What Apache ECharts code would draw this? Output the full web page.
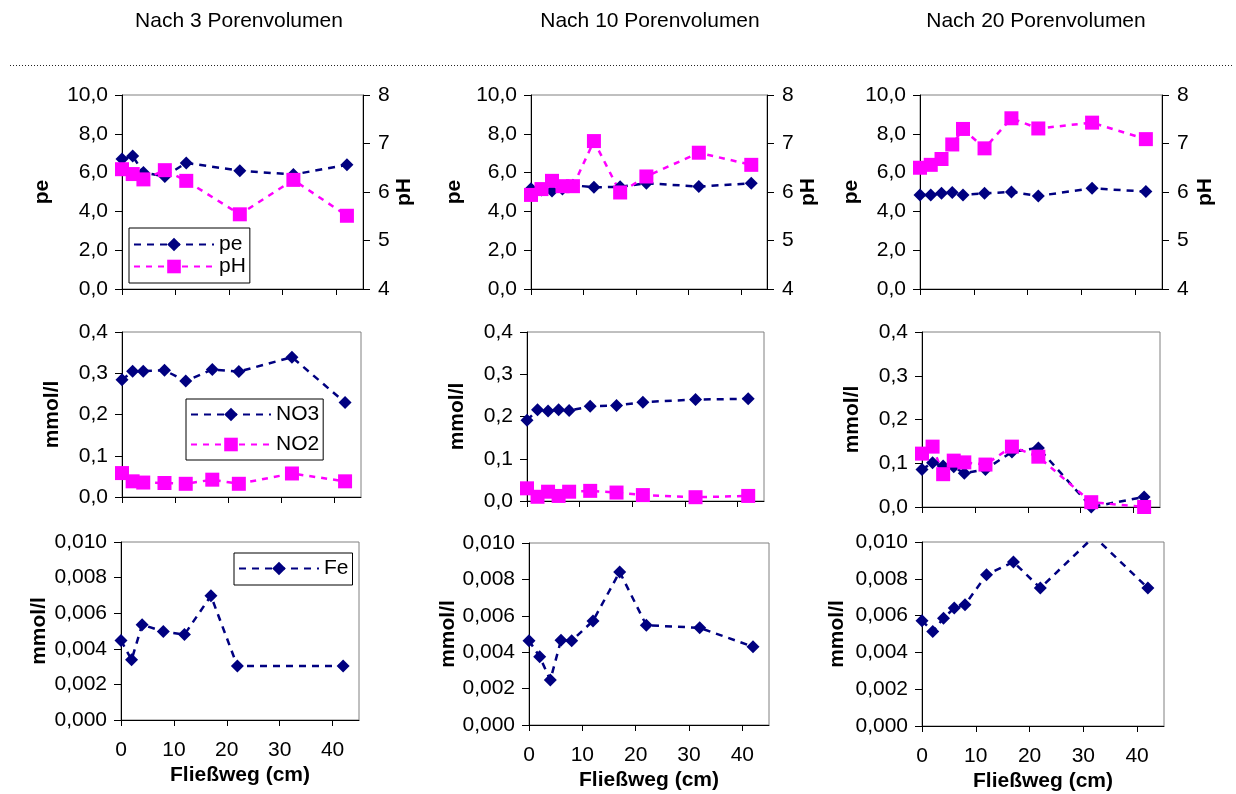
<!DOCTYPE html>
<html>
<head>
<meta charset="utf-8">
<script src="https://cdn.jsdelivr.net/npm/echarts@6/dist/echarts.min.js"></script>
<style>html,body{margin:0;padding:0;background:#fff}#c{width:1236px;height:794px}</style>
</head>
<body>
<div id="c"></div>
<script>
// ---- data ----
const titles = ['Nach 3 Porenvolumen', 'Nach 10 Porenvolumen', 'Nach 20 Porenvolumen'];
const xTicks = [0, 10, 20, 30, 40];

// 3 PV
const x3pe = [0, 2, 4, 8, 12, 22, 32, 42];
const pe3 = [6.7, 6.85, 6.0, 5.8, 6.5, 6.1, 5.9, 6.4];
const pH3 = [6.47, 6.37, 6.26, 6.45, 6.23, 5.54, 6.25, 5.51];
const x3no = [0, 2, 4, 8, 12, 17, 22, 32, 42];
const no3_3 = [0.284, 0.305, 0.305, 0.307, 0.281, 0.309, 0.304, 0.339, 0.229];
const no2_3 = [0.058, 0.038, 0.035, 0.034, 0.032, 0.042, 0.032, 0.057, 0.038];
const x3fe = [0, 2, 4, 8, 12, 17, 22, 42];
const fe3 = [0.00447, 0.00338, 0.00535, 0.00497, 0.0048, 0.00698, 0.00303, 0.00303];

// 10 PV
const x10 = [0, 2, 4, 6, 8, 12, 17, 22, 32, 42];
const pe10 = [5.17, 5.1, 5.05, 5.15, 5.35, 5.24, 5.27, 5.45, 5.28, 5.45];
const pH10 = [5.94, 6.06, 6.23, 6.12, 6.12, 7.05, 5.99, 6.32, 6.81, 6.56];
const no3_10 = [0.191, 0.216, 0.213, 0.216, 0.214, 0.224, 0.226, 0.234, 0.240, 0.242];
const no2_10 = [0.030, 0.010, 0.022, 0.012, 0.022, 0.024, 0.020, 0.014, 0.009, 0.012];
const fe10 = [0.00463, 0.00375, 0.00247, 0.00466, 0.00463, 0.00572, 0.00841, 0.00548, 0.00534, 0.0043];

// 20 PV
const x20 = [0, 2, 4, 6, 8, 12, 17, 22, 32, 42];
const pe20 = [4.85, 4.85, 4.93, 4.98, 4.85, 4.93, 5.0, 4.8, 5.19, 5.02];
const pH20 = [6.50, 6.56, 6.68, 6.98, 7.30, 6.90, 7.52, 7.31, 7.43, 7.09];
const no3_20 = [0.086, 0.101, 0.094, 0.092, 0.077, 0.086, 0.126, 0.135, 0.0, 0.023];
const no2_20 = [0.122, 0.138, 0.075, 0.106, 0.102, 0.097, 0.138, 0.115, 0.011, 0.0];
const fe20 = [0.00572, 0.00514, 0.00586, 0.00641, 0.00659, 0.00822, 0.00891, 0.0075, 0.0103, 0.0075];

// ---- layout ----
const FONT = '"Liberation Sans", Arial, sans-serif';
const NAVY = '#000080', PINK = '#FF00FF';
const grids = [
  {left: 122, top: 95, width: 241, height: 194},
  {left: 531, top: 95, width: 236, height: 194},
  {left: 920, top: 95, width: 242, height: 194},
  {left: 122, top: 332, width: 239, height: 165},
  {left: 527, top: 332, width: 237, height: 169},
  {left: 922, top: 332, width: 238, height: 175},
  {left: 121, top: 542, width: 238, height: 178},
  {left: 529, top: 543, width: 240, height: 182},
  {left: 922, top: 542, width: 242, height: 184}
].map(g => Object.assign({show: true, borderColor: '#808080', borderWidth: 1, backgroundColor: 'transparent'}, g));

const comma = d => v => v.toFixed(d).replace('.', ',');
const lab = {fontFamily: FONT, fontSize: 21, color: '#000'};
const nameStyle = {fontFamily: FONT, fontSize: 21, fontWeight: 'bold', color: '#000'};

const xAxes = grids.map((g, i) => ({
  type: 'value', gridIndex: i, min: 0, max: 45, interval: 10,
  axisLine: {lineStyle: {color: '#000', width: 1}},
  axisTick: {show: true, inside: false, length: 6, lineStyle: {color: '#000'}, customValues: xTicks},
  axisLabel: Object.assign({show: i >= 6, margin: 20, customValues: xTicks}, lab),
  splitLine: {show: false},
  name: i >= 6 ? 'Fließweg (cm)' : '', nameLocation: 'middle', nameGap: 45, nameTextStyle: nameStyle
}));

function yLeft(i, min, max, interval, dec, name, gap) {
  return {
    type: 'value', gridIndex: i, position: 'left', min, max, interval,
    axisLine: {show: true, lineStyle: {color: '#000', width: 1}},
    axisTick: {show: true, inside: false, length: 7, lineStyle: {color: '#000'}},
    axisLabel: Object.assign({margin: 14, formatter: comma(dec)}, lab),
    splitLine: {show: false},
    name, nameLocation: 'middle', nameRotate: 90, nameGap: gap, nameTextStyle: nameStyle
  };
}
function yRight(i, gap) {
  return {
    type: 'value', gridIndex: i, position: 'right', min: 4, max: 8, interval: 1,
    axisLine: {show: true, lineStyle: {color: '#000', width: 1}},
    axisTick: {show: true, inside: false, length: 7, lineStyle: {color: '#000'}},
    axisLabel: Object.assign({margin: 15, formatter: v => String(v)}, lab),
    splitLine: {show: false},
    name: 'pH', nameLocation: 'middle', nameRotate: 90, nameGap: gap, nameTextStyle: nameStyle
  };
}
const yAxes = [
  yLeft(0, 0, 10, 2, 1, 'pe', 69),
  yLeft(1, 0, 10, 2, 1, 'pe', 66),
  yLeft(2, 0, 10, 2, 1, 'pe', 58),
  yLeft(3, 0, 0.4, 0.1, 1, 'mmol/l', 59),
  yLeft(4, 0, 0.4, 0.1, 1, 'mmol/l', 59),
  yLeft(5, 0, 0.4, 0.1, 1, 'mmol/l', 59),
  yLeft(6, 0, 0.01, 0.002, 3, 'mmol/l', 71),
  yLeft(7, 0, 0.01, 0.002, 3, 'mmol/l', 67),
  yLeft(8, 0, 0.01, 0.002, 3, 'mmol/l', 74),
  yRight(0, 31), yRight(1, 31), yRight(2, 33)
];

const zip = (xs, ys) => xs.map((x, k) => [x, ys[k]]);
function ser(name, grid, yIdx, xs, ys, kind) {
  const navy = kind === 'navy';
  return {
    type: 'line', name, xAxisIndex: grid, yAxisIndex: yIdx, data: zip(xs, ys),
    symbol: navy ? 'diamond' : 'rect', symbolSize: navy ? 13 : 14,
    itemStyle: {color: navy ? NAVY : PINK, borderWidth: 0},
    lineStyle: {color: navy ? NAVY : PINK, width: 2.5, type: navy ? [7, 6] : [6, 6]},
    clip: true, animation: false, silent: true
  };
}
const series = [
  ser('pe', 0, 0, x3pe, pe3, 'navy'), ser('pH', 0, 9, x3pe, pH3, 'pink'),
  ser('pe', 1, 1, x10, pe10, 'navy'), ser('pH', 1, 10, x10, pH10, 'pink'),
  ser('pe', 2, 2, x20, pe20, 'navy'), ser('pH', 2, 11, x20, pH20, 'pink'),
  ser('NO3', 3, 3, x3no, no3_3, 'navy'), ser('NO2', 3, 3, x3no, no2_3, 'pink'),
  ser('NO3', 4, 4, x10, no3_10, 'navy'), ser('NO2', 4, 4, x10, no2_10, 'pink'),
  ser('NO3', 5, 5, x20, no3_20, 'navy'), ser('NO2', 5, 5, x20, no2_20, 'pink'),
  ser('Fe', 6, 6, x3fe, fe3, 'navy'),
  ser('Fe', 7, 7, x10, fe10, 'navy'),
  ser('Fe', 8, 8, x20, fe20, 'navy')
];

const legBase = {
  orient: 'vertical', backgroundColor: '#fff', borderColor: '#000', borderWidth: 1,
  itemWidth: 80, itemHeight: 17, itemGap: 1, selectedMode: false,
  textStyle: {fontFamily: FONT, fontSize: 21, color: '#000', lineHeight: 18}
};
const legends = [
  Object.assign({}, legBase, {left: 129, top: 228, padding: [6, 4, 6, 4], data: ['pe', 'pH']}),
  Object.assign({}, legBase, {left: 186, top: 399, padding: [5, 4, 5, 4], itemGap: 9, textStyle: Object.assign({}, legBase.textStyle, {lineHeight: 21}), data: ['NO3', 'NO2']}),
  Object.assign({}, legBase, {left: 234, top: 553, padding: [5, 4, 6, 4], textStyle: Object.assign({}, legBase.textStyle, {lineHeight: 21}), data: ['Fe']})
];

const titleX = [239, 650, 1036];
const graphic = titles.map((t, k) => ({
  type: 'text', x: titleX[k], y: 21,
  style: {text: t, fontFamily: FONT, fontSize: 21, fill: '#000', align: 'center', verticalAlign: 'middle'}
}));
graphic.push({
  type: 'line', shape: {x1: 10, y1: 65.5, x2: 1232, y2: 65.5},
  style: {stroke: '#222', lineWidth: 1, lineDash: [1, 2]}
});

const chart = echarts.init(document.getElementById('c'), null, {renderer: 'canvas'});
chart.setOption({
  backgroundColor: '#fff',
  animation: false,
  grid: grids, xAxis: xAxes, yAxis: yAxes, series, legend: legends, graphic
});
</script>
</body>
</html>
